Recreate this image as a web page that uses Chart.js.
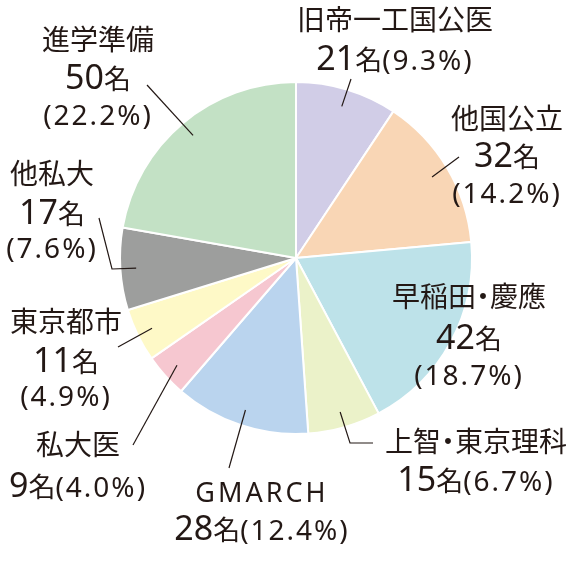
<!DOCTYPE html>
<html>
<head>
<meta charset="utf-8">
<script src="https://cdn.jsdelivr.net/npm/chart.js@4"></script>
<style>
  html, body { margin: 0; padding: 0; background: #fff; }
</style>
</head>
<body>
<canvas id="pie" width="576" height="574"></canvas>
<script>
const categories = ['旧帝一工国公医', '他国公立', '早稲田・慶應', '上智・東京理科', 'GMARCH', '私大医', '東京都市', '他私大', '進学準備'];
const counts = [21, 32, 42, 15, 28, 9, 11, 17, 50];
const percents = ['9.3%', '14.2%', '18.7%', '6.7%', '12.4%', '4.0%', '4.9%', '7.6%', '22.2%'];

const sliceColors = ['#d1cde7', '#f9d6b5', '#bde2e9', '#ebf2c9', '#bad4ee', '#f6c7d0', '#fef9c7', '#9d9e9d', '#c3e1c5'];
const textColor = '#231815';
const FONT = '"Noto Sans", "Noto Sans CJK JP", sans-serif';

// where each label sits: centre x, baselines of its lines, and whether count + percent share a line
const labelBoxes = [
  { x: 395, ys: [30, 70], oneLine: true },
  { x: 507, ys: [129, 167, 203] },
  { x: 469, ys: [307, 349, 385] },
  { x: 476, ys: [452, 491], oneLine: true },
  { x: 262, ys: [502, 540], oneLine: true },
  { x: 78, ys: [455, 497], oneLine: true },
  { x: 66, ys: [332, 372, 406] },
  { x: 52, ys: [184, 224, 258] },
  { x: 98, ys: [50, 89, 125] },
];

// leader lines: start inside the slice (fraction of radius), then go through these points
const leaders = [
  { r: 0.9, pts: [[351, 79]] },
  { r: 0.9, pts: [[459, 157]] },
  null,
  { r: 0.91, pts: [[350, 443], [373, 443]] },
  { r: 0.91, pts: [[229, 468]] },
  { r: 0.91, pts: [[133, 445]] },
  { r: 0.91, pts: [[118, 347]] },
  { r: 0.91, pts: [[112, 269], [99, 218]] },
  { r: 0.91, pts: [[147, 85]] },
];

function catSegments(cat) {
  if (/^[A-Z]+$/.test(cat)) return [{ t: cat, size: 27, ls: 3 }];
  const parts = cat.split('・');
  const segs = [];
  parts.forEach((p, k) => {
    if (k > 0) segs.push({ t: '・', size: 28, shift: -7, adv: 14 });
    segs.push({ t: p, size: 28 });
  });
  return segs;
}
function countSegments(n) {
  return [{ t: String(n), size: 34 }, { t: '名', size: 27 }];
}
function pctSegments(p) {
  return [{ t: '(' + p + ')', size: 28, ls: 2 }];
}

function drawLine(ctx, segs, cx, y) {
  let total = 0;
  segs.forEach(s => {
    ctx.font = s.size + 'px ' + FONT;
    ctx.letterSpacing = (s.ls || 0) + 'px';
    s.w = s.adv !== undefined ? s.adv : ctx.measureText(s.t).width;
    total += s.w;
  });
  let x = cx - total / 2;
  segs.forEach(s => {
    ctx.font = s.size + 'px ' + FONT;
    ctx.letterSpacing = (s.ls || 0) + 'px';
    ctx.fillText(s.t, x + (s.shift || 0), y);
    x += s.w;
  });
  ctx.letterSpacing = '0px';
}

const labelPlugin = {
  id: 'pieLabels',
  afterDatasetsDraw(chart) {
    const ctx = chart.ctx;
    const meta = chart.getDatasetMeta(0);
    ctx.save();
    ctx.strokeStyle = textColor;
    ctx.lineWidth = 1.2;
    meta.data.forEach((arc, i) => {
      const ld = leaders[i];
      if (!ld) return;
      const p = arc.getProps(['x', 'y', 'startAngle', 'endAngle', 'outerRadius'], true);
      const mid = (p.startAngle + p.endAngle) / 2;
      ctx.beginPath();
      ctx.moveTo(p.x + Math.cos(mid) * p.outerRadius * ld.r, p.y + Math.sin(mid) * p.outerRadius * ld.r);
      ld.pts.forEach(pt => ctx.lineTo(pt[0], pt[1]));
      ctx.stroke();
    });

    ctx.fillStyle = textColor;
    ctx.textBaseline = 'alphabetic';
    ctx.textAlign = 'left';
    categories.forEach((cat, i) => {
      const box = labelBoxes[i];
      const lines = [catSegments(cat)];
      if (box.oneLine) {
        lines.push(countSegments(counts[i]).concat(pctSegments(percents[i])));
      } else {
        lines.push(countSegments(counts[i]));
        lines.push(pctSegments(percents[i]));
      }
      lines.forEach((segs, k) => drawLine(ctx, segs, box.x, box.ys[k]));
    });
    ctx.restore();
  },
};

const ctx = document.getElementById('pie').getContext('2d');
new Chart(ctx, {
  type: 'pie',
  data: {
    labels: categories,
    datasets: [
      {
        data: counts,
        backgroundColor: sliceColors,
        borderColor: '#ffffff',
        borderWidth: 2,
      },
    ],
  },
  options: {
    responsive: false,
    maintainAspectRatio: false,
    animation: false,
    layout: {
      padding: { left: 119, right: 103, top: 81, bottom: 139 },
    },
    plugins: {
      legend: { display: false },
      tooltip: { enabled: false },
    },
  },
  plugins: [labelPlugin],
});
</script>
</body>
</html>
